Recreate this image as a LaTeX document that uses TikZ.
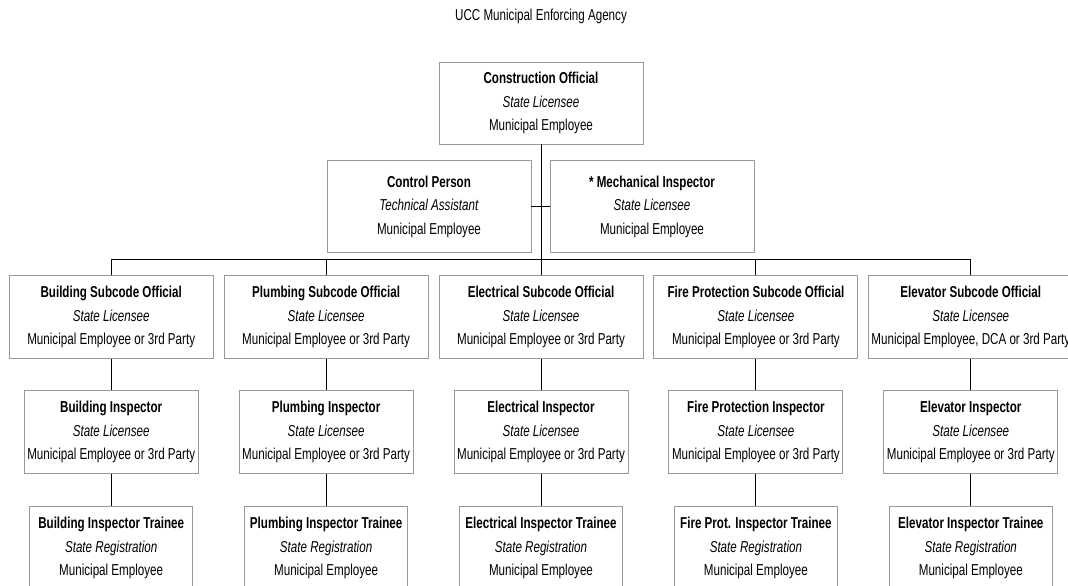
\documentclass[tikz,border=0pt]{standalone}
\usepackage{fontspec}
\setmainfont{Liberation Sans}[FakeStretch=0.735]
\usetikzlibrary{positioning}

\begin{document}
\begin{tikzpicture}[x=1pt, y=1pt,
 every node/.style={font=\fontsize{15.8pt}{23.5pt}\selectfont},
 box/.style={draw=black!40, line width=0.9pt, align=center, inner sep=2pt, minimum width=204pt, minimum height=83pt},
 insp/.style={box, minimum width=174pt},
 trainee/.style={box, minimum width=163pt},
 link/.style={line width=0.9pt}]
 \useasboundingbox (0,0) rectangle (1068,-586);
 \node [box, minimum height=82pt] (co) at (541,-103) {\textbf{Construction Official}\\\textit{State Licensee}\\Municipal Employee};
 \node [above=38pt of co, inner sep=0pt] (title) {UCC Municipal Enforcing Agency};
 \node [box, minimum height=92pt, below=16pt of co, xshift=-112pt] (cp) {\textbf{Control Person}\\\textit{Technical Assistant}\\Municipal Employee};
 \node [box, minimum height=92pt, below=16pt of co, xshift=111pt] (mi) {\textbf{* Mechanical Inspector}\\\textit{State Licensee}\\Municipal Employee};
 \node [box, below=131pt of co] (eso) {\textbf{Electrical Subcode Official}\\\textit{State Licensee}\\Municipal Employee or 3rd Party};
 \node [box, left=10pt of eso] (pso) {\textbf{Plumbing Subcode Official}\\\textit{State Licensee}\\Municipal Employee or 3rd Party};
 \node [box, left=10pt of pso] (bso) {\textbf{Building Subcode Official}\\\textit{State Licensee}\\Municipal Employee or 3rd Party};
 \node [box, right=10pt of eso] (fso) {\textbf{Fire Protection Subcode Official}\\\textit{State Licensee}\\Municipal Employee or 3rd Party};
 \node [box, right=10pt of fso] (vso) {\textbf{Elevator Subcode Official}\\\textit{State Licensee}\\Municipal Employee, DCA or 3rd Party};
 \node [insp, below=31pt of bso] (bi) {\textbf{Building Inspector}\\\textit{State Licensee}\\Municipal Employee or 3rd Party};
 \node [insp, below=31pt of pso] (pi) {\textbf{Plumbing Inspector}\\\textit{State Licensee}\\Municipal Employee or 3rd Party};
 \node [insp, below=31pt of eso] (ei) {\textbf{Electrical Inspector}\\\textit{State Licensee}\\Municipal Employee or 3rd Party};
 \node [insp, below=31pt of fso] (fi) {\textbf{Fire Protection Inspector}\\\textit{State Licensee}\\Municipal Employee or 3rd Party};
 \node [insp, below=31pt of vso] (vi) {\textbf{Elevator Inspector}\\\textit{State Licensee}\\Municipal Employee or 3rd Party};
 \node [trainee, below=32pt of bi] (bit) {\textbf{Building Inspector Trainee}\\\textit{State Registration}\\Municipal Employee};
 \node [trainee, below=32pt of pi] (pit) {\textbf{Plumbing Inspector Trainee}\\\textit{State Registration}\\Municipal Employee};
 \node [trainee, below=32pt of ei] (eit) {\textbf{Electrical Inspector Trainee}\\\textit{State Registration}\\Municipal Employee};
 \node [trainee, below=32pt of fi] (fit) {\textbf{Fire Prot. Inspector Trainee}\\\textit{State Registration}\\Municipal Employee};
 \node [trainee, below=32pt of vi] (vit) {\textbf{Elevator Inspector Trainee}\\\textit{State Registration}\\Municipal Employee};
 \coordinate [above=16pt of eso.north] (bus);
 \draw [link] (co) -- (eso);
 \draw [link] (cp) -- (mi);
 \draw [link] (bso.north) |- (bus) -| (vso.north);
 \foreach \n in {pso,fso} \draw [link] (\n.north) -- (\n.north |- bus);
 \foreach \n in {b,p,e,f,v} {
  \draw [link] (\n so) -- (\n i);
  \draw [link] (\n i) -- (\n it);
 }
\end{tikzpicture}
\end{document}
